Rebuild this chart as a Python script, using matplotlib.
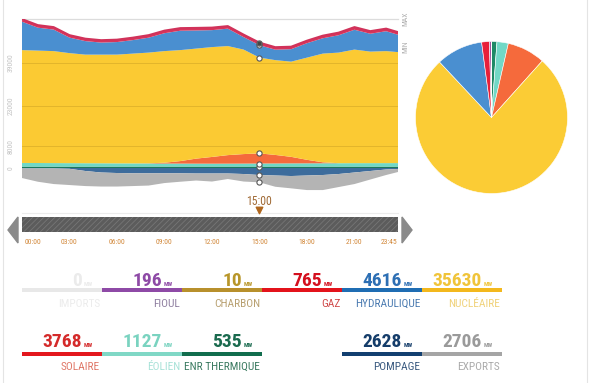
import matplotlib
matplotlib.use("Agg")
import matplotlib.pyplot as plt
from matplotlib import font_manager
from matplotlib.patches import Rectangle, Polygon
import numpy as np

# ---------------- data ----------------
hours = [0, 1, 2, 3, 4, 5, 6, 7, 8, 9, 10, 11, 12, 13, 14, 15, 16, 17, 18, 19, 20, 21, 22, 23, 23.75]
enr_thermique = [520, 520, 520, 520, 520, 520, 525, 530, 535, 535, 535, 535, 535, 535, 535, 535, 535, 535, 530, 530, 525, 525, 520, 520, 520]
eolien = [1350, 1330, 1300, 1280, 1250, 1230, 1200, 1180, 1150, 1120, 1100, 1080, 1070, 1080, 1100, 1127, 1150, 1180, 1200, 1220, 1250, 1270, 1280, 1290, 1300]
solaire = [0, 0, 0, 0, 0, 0, 0, 0, 60, 300, 930, 1870, 2500, 3170, 3540, 3768, 3170, 2430, 1310, 370, 0, 0, 0, 0, 0]
nucleaire = [41970, 41810, 41650, 40920, 40390, 40410, 40440, 40830, 41170, 41520, 41280, 40920, 40860, 40560, 38860, 35630, 35260, 35400, 38000, 40420, 41140, 42240, 41480, 41660, 41280]
hydraulique = [10570, 8530, 8000, 5770, 5030, 4480, 4670, 5020, 5550, 6650, 7210, 6740, 6300, 6480, 4630, 4616, 3890, 4640, 5370, 5710, 6450, 7380, 6640, 7400, 6460]
fossile = [1000, 980, 960, 950, 940, 930, 930, 950, 980, 1000, 1000, 990, 980, 980, 970, 971, 960, 960, 980, 1000, 1010, 1020, 1010, 1000, 1000]
pompage = [190, 190, 190, 300, 1120, 1680, 1870, 1980, 1980, 1980, 1980, 2050, 2050, 2050, 2240, 2628, 2800, 2990, 2800, 2610, 2240, 1680, 1120, 560, 370]
exports = [3540, 4920, 5780, 6040, 5600, 5220, 5030, 4740, 4550, 3620, 3130, 2610, 2990, 2050, 2800, 2706, 4180, 4580, 5410, 5600, 4850, 4290, 3170, 2050, 1120]

ytick_values = [0, 8000, 23000, 39000]
ytick_labels = ["0", "8000", "23000", "39000"]
time_ticks = [0, 3, 6, 9, 12, 15, 18, 21, 23.75]
time_labels = ["00:00", "03:00", "06:00", "09:00", "12:00", "15:00", "18:00", "21:00", "23:45"]
selected_hour = 15
selected_label = "15:00"

row1_labels = ["IMPORTS", "FIOUL", "CHARBON", "GAZ", "HYDRAULIQUE", "NUCLÉAIRE"]
row1_values = [0, 196, 10, 765, 4616, 35630]
row2_labels = ["SOLAIRE", "ÉOLIEN", "ENR THERMIQUE", "POMPAGE", "EXPORTS"]
row2_values = [3768, 1127, 535, 2628, 2706]

pie_labels = ["ENR thermique", "Éolien", "Solaire", "Nucléaire", "Hydraulique", "Gaz", "Fioul", "Charbon"]
pie_values = [535, 1127, 3768, 35630, 4616, 765, 196, 10]

# ---------------- style ----------------
names = {f.name for f in font_manager.fontManager.ttflist}
COND = "DejaVu Sans"
for cand in ["Roboto Condensed", "Liberation Sans Narrow", "DejaVu Sans Condensed", "Open Sans Condensed"]:
    if cand in names:
        COND = cand
        break
plt.rcParams["font.family"] = [COND, "DejaVu Sans"]
plt.rcParams["hatch.linewidth"] = 0.6

W, H = 590, 383
fig = plt.figure(figsize=(W / 100, H / 100), dpi=100)
fig.patch.set_facecolor("white")

def fr(x0, y0, x1, y1):
    return [x0 / W, 1 - y1 / H, (x1 - x0) / W, (y1 - y0) / H]

# overlay in pixel coords
ov = fig.add_axes([0, 0, 1, 1], zorder=0)
ov.set_xlim(0, W)
ov.set_ylim(H, 0)
ov.axis("off")
ov.plot([3, 3], [0, H], color="#e4e4e4", lw=0.8)
ov.plot([587, 587], [0, H], color="#e4e4e4", lw=0.8)

# ---------------- main stacked area chart ----------------
ax = fig.add_axes(fr(22, 19, 398, 192), zorder=2)
ax.set_facecolor("none")
h = np.array(hours)
pos = [np.array(enr_thermique), np.array(eolien), np.array(solaire), np.array(nucleaire),
       np.array(hydraulique), np.array(fossile)]
pos_colors = ["#177a5c", "#6fd8c6", "#f56a3c", "#fbca33", "#4a8fd0", "#d8345a"]
ax.stackplot(h, *pos, colors=pos_colors, linewidth=0)
neg = [-np.array(pompage), -np.array(exports)]
ax.stackplot(h, *neg, colors=["#3d6c9c", "#b4b4b4"], linewidth=0)
total = sum(pos)
ax.plot(h, total, color="#d0325a", lw=1.3, zorder=3)

ymax = total.max()
ax.set_xlim(h[0], h[-1])
ax.set_ylim(-8930, ymax)
for v in ytick_values[1:]:
    ax.axhline(v, color="#8a6a10", alpha=0.22, lw=0.7, zorder=3)
ax.axhline(ymax, color="#dcdcdc", lw=0.9, zorder=1, clip_on=False)
ax.set_yticks(ytick_values)
ax.set_yticklabels(ytick_labels, rotation=90, va="center", fontsize=5.5, color="#c4c4c4")
ax.tick_params(axis="y", length=0, pad=6)
ax.set_xticks([])
for s in ax.spines.values():
    s.set_visible(False)
ax.text(1.02, ymax, "MAX", transform=ax.get_yaxis_transform(), rotation=90,
        ha="center", va="center", fontsize=5.5, color="#b0b0b0")
ax.text(1.02, total.min(), "MIN", transform=ax.get_yaxis_transform(), rotation=90,
        ha="center", va="center", fontsize=5.5, color="#b0b0b0")

# markers at selected time
i = hours.index(selected_hour)
cum = np.cumsum([p[i] for p in pos])
marker_levels = [cum[0], cum[1], cum[2], cum[3], cum[4], cum[5],
                 -pompage[i], -(pompage[i] + exports[i])]
ax.scatter([selected_hour] * len(marker_levels), marker_levels, s=14, facecolor="white",
           edgecolor="#555555", linewidth=0.8, zorder=5)
ax.scatter([selected_hour], [cum[5]], s=5, color="#444444", zorder=6)

# ---------------- pie ----------------
axp = fig.add_axes(fr(415.5, 41.5, 567.5, 193.5), zorder=2)
pie_colors = ["#1e8a66", "#72d8c6", "#f56a3c", "#fbcc35", "#4a8fd0", "#e8203a", "#a0529e", "#b8902c"]
axp.pie(pie_values, colors=pie_colors, startangle=90, counterclock=False,
        wedgeprops=dict(edgecolor="white", linewidth=0.4))
axp.set_xlim(-1, 1)
axp.set_ylim(-1, 1)
axp.set_aspect("equal")
axp.axis("off")

# ---------------- time slider ----------------
axs = fig.add_axes(fr(22, 217, 398, 232), zorder=2)
axs.set_xlim(h[0], h[-1])
axs.set_ylim(0, 1)
axs.axis("off")
axs.add_patch(Rectangle((0, 0), 1, 1, transform=axs.transAxes, facecolor="#5c5c5c",
                        edgecolor="#767676", hatch="//////", lw=0, clip_on=False))
ov.plot([22, 398], [213, 213], color="#ececec", lw=0.8)
ov.add_patch(Polygon([[8, 230], [18, 217], [18, 243]], closed=True, color="#8a8a8a"))
ov.add_patch(Polygon([[412, 230], [402, 217], [402, 243]], closed=True, color="#8a8a8a"))
for t, lab in zip(time_ticks, time_labels):
    ha = "center"
    tt = t
    if t == time_ticks[0]:
        ha, tt = "left", t + 0.15
    elif t == time_ticks[-1]:
        ha, tt = "right", t - 0.05
    axs.text(tt, -0.68, lab, ha=ha, va="center", fontsize=5.5, color="#d2883a", clip_on=False)
axs.text(selected_hour, 2.05, selected_label, ha="center", va="center", fontsize=8.5,
         color="#a06a35", clip_on=False)
axs.scatter([selected_hour], [1.45], marker="v", s=22, color="#b0671e", clip_on=False)

# ---------------- value cards ----------------
row1_bar = ["#e8e8e8", "#8e4aa6", "#b8902c", "#e3131b", "#1f6db3", "#f3b81d"]
row1_num = ["#ebebeb", "#8e4aa6", "#b8962a", "#d4101e", "#2d6fb4", "#f0c43a"]
row1_lab = ["#ececec", "#8f7fa0", "#b8a070", "#d04848", "#4a7ab0", "#f0d27a"]
row2_slots = [0, 1, 2, 4, 5]
row2_bar = ["#e3171d", "#80d8c6", "#116d4d", "#123f70", "#a5a5a5"]
row2_num = ["#d42a2a", "#7ad3c0", "#1a6a4e", "#153d6a", "#9a9a9a"]
row2_lab = ["#e07868", "#a8e2d8", "#3a7a60", "#3a5a80", "#aaaaaa"]

def draw_row(slots, values, labels, bcols, ncols, lcols, ybar, ybase, ylab):
    for s, v, lab, bc, nc, lc in zip(slots, values, labels, bcols, ncols, lcols):
        x0 = 22 + 80 * s
        x1 = x0 + 80
        ov.add_patch(Rectangle((x0, ybar - 1.7), 80, 3.4, color=bc, lw=0))
        ov.text(x1 - 20, ybase, f"{v}", ha="right", va="baseline", fontsize=14,
                fontweight="bold", color=nc)
        ov.text(x1 - 18, ybase, "MW", ha="left", va="baseline", fontsize=4.3,
                fontweight="bold", color=nc)
        ov.text(x1 - 2, ylab, lab, ha="right", va="center", fontsize=8.2, color=lc)

draw_row(range(6), row1_values, row1_labels, row1_bar, row1_num, row1_lab, 290, 286, 304)
draw_row(row2_slots, row2_values, row2_labels, row2_bar, row2_num, row2_lab, 354, 347, 366.5)

fig.savefig("out.png", dpi=100)
